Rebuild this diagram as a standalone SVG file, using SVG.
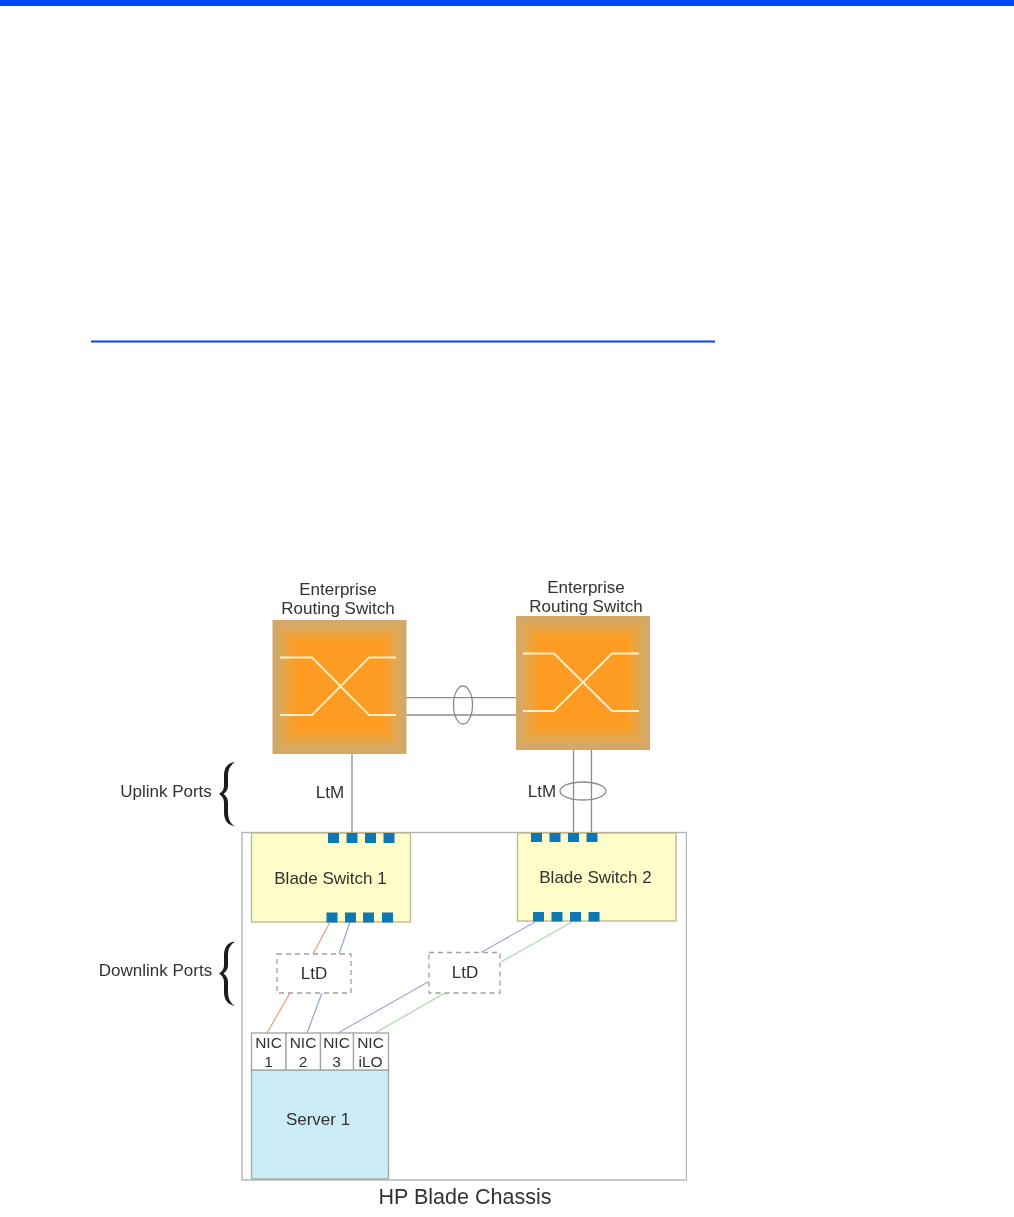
<svg xmlns="http://www.w3.org/2000/svg" width="1014" height="1217" viewBox="0 0 1014 1217">
<style>
text{font-family:"Liberation Sans",Arial,sans-serif;font-size:17px;fill:#333;text-anchor:middle}
.nt{font-size:15.500px}
.o0{fill:#d4a968}.o1{fill:#dca85c}.o2{fill:#e5a64c}.o3{fill:#eea33c}.o4{fill:#f69f2c}.o5{fill:#fd9b20}
.x{fill:none;stroke:#fff0cc;stroke-width:1.800}
.g{fill:none;stroke:#8c8c8c;stroke-width:1.300}
.blade{fill:#fefcc8;stroke:#b9b78e;stroke-width:1.300}
.port{fill:#0a78b4}
.ltd{fill:#fff;stroke:#a0a0a0;stroke-width:1.300;stroke-dasharray:5 4}
.nic{fill:#fff;stroke:#a0a4a4;stroke-width:1.300}
.c{fill:none;stroke-width:1.200}
.brace{fill:#1a1a1a}
</style>
<defs>
<filter id="soft" x="0" y="0" width="100%" height="100%"><feGaussianBlur stdDeviation="0.35"/></filter>
<path id="br" d="M235 762C228 763 224 767 224 776V785C224 790 222 792 219 794C222 796 224 798 224 803V812C224 821 228 825 235 826.500C231 824 228 820 228 812V803C228 798 226 796 223.500 794C226 792 228 790 228 785V776C228 768 231 765 235 762Z"/>
</defs>
<rect width="1014" height="1217" fill="#fff"/>
<rect x="0" y="0" width="1014" height="6" fill="#0047f5"/>
<rect x="91" y="340.500" width="624" height="2" fill="#0047f5"/>

<g filter="url(#soft)">
<g id="chassis">
<rect x="242" y="832.500" width="444.500" height="347.500" fill="#fff" stroke="#b4b4b4" stroke-width="1.400"/>
<text x="465" y="1204" style="font-size:21.500px">HP Blade Chassis</text>
</g>

<g id="connectors">
<path class="g" d="M406 697.700H516M406 715H516"/>
<path class="g" d="M352 754V832M573.500 750V832M591.500 750V832"/>
<ellipse class="g" cx="463" cy="705" rx="9.500" ry="19"/>
<ellipse class="g" cx="583" cy="791" rx="23" ry="9"/>
<path class="c" stroke="#e39a84" d="M330 922L313 954M290 993L267 1033"/>
<path class="c" stroke="#8ea6d0" d="M350 922L339 954M322 993L307 1033"/>
<path class="c" stroke="#a5a6d6" d="M535 922L480 953M428 982L338 1033"/>
<path class="c" stroke="#a9d6a8" d="M572 922L501 962M445 993L375 1033"/>
</g>

<g id="switch1">
<rect class="o0" x="272.500" y="620" width="134" height="134"/>
<rect class="o1" x="278.500" y="626" width="122" height="122"/>
<rect class="o2" x="282.500" y="630" width="114" height="114"/>
<rect class="o3" x="286.500" y="634" width="106" height="106"/>
<rect class="o4" x="290.500" y="638" width="98" height="98"/>
<rect class="o5" x="294.500" y="642" width="90" height="90"/>
<path class="x" d="M280 657.500H312L369 715H396M280 715H312L369 657.500H396"/>
<text x="338" y="595">Enterprise</text>
<text x="338" y="614">Routing Switch</text>
</g>
<g id="switch2">
<rect class="o0" x="516" y="616" width="134" height="134"/>
<rect class="o1" x="522" y="622" width="122" height="122"/>
<rect class="o2" x="526" y="626" width="114" height="114"/>
<rect class="o3" x="530" y="630" width="106" height="106"/>
<rect class="o4" x="534" y="634" width="98" height="98"/>
<rect class="o5" x="538" y="638" width="90" height="90"/>
<path class="x" d="M523 653.500H554L612 711H639M523 711H554L612 653.500H639"/>
<text x="586" y="593">Enterprise</text>
<text x="586" y="612">Routing Switch</text>
</g>

<g id="blade1">
<rect class="blade" x="251.500" y="833" width="159" height="89"/>
<rect class="port" x="328" y="833" width="11" height="10"/><rect class="port" x="346.500" y="833" width="11" height="10"/><rect class="port" x="365" y="833" width="11" height="10"/><rect class="port" x="383.500" y="833" width="11" height="10"/>
<rect class="port" x="326.500" y="912.500" width="11" height="10"/><rect class="port" x="345" y="912.500" width="11" height="10"/><rect class="port" x="363" y="912.500" width="11" height="10"/><rect class="port" x="382" y="912.500" width="11" height="10"/>
<text x="330.500" y="884">Blade Switch 1</text>
</g>
<g id="blade2">
<rect class="blade" x="517.500" y="833" width="158.500" height="88"/>
<rect class="port" x="531" y="833" width="11" height="9"/><rect class="port" x="549.500" y="833" width="11" height="9"/><rect class="port" x="568" y="833" width="11" height="9"/><rect class="port" x="586.500" y="833" width="11" height="9"/>
<rect class="port" x="533" y="912" width="11" height="9.500"/><rect class="port" x="551.500" y="912" width="11" height="9.500"/><rect class="port" x="570" y="912" width="11" height="9.500"/><rect class="port" x="588.500" y="912" width="11" height="9.500"/>
<text x="595.500" y="883">Blade Switch 2</text>
</g>

<g id="ltd1">
<rect class="ltd" x="277" y="954" width="74" height="39"/>
<text x="314" y="979">LtD</text>
</g>
<g id="ltd2">
<rect class="ltd" x="429" y="952.500" width="71" height="40.500"/>
<text x="465" y="978">LtD</text>
</g>

<g id="server1">
<rect x="251.500" y="1070" width="137" height="109" fill="#cbebf5" stroke="#a0a4a4" stroke-width="1.300"/>
<rect class="nic" x="251.500" y="1033" width="34.500" height="37"/>
<rect class="nic" x="286" y="1033" width="34.500" height="37"/>
<rect class="nic" x="320.500" y="1033" width="33" height="37"/>
<rect class="nic" x="353.500" y="1033" width="35" height="37"/>
<text class="nt" x="268.500" y="1048">NIC</text><text class="nt" x="268.500" y="1067">1</text>
<text class="nt" x="303" y="1048">NIC</text><text class="nt" x="303" y="1067">2</text>
<text class="nt" x="336.500" y="1048">NIC</text><text class="nt" x="336.500" y="1067">3</text>
<text class="nt" x="370.500" y="1048">NIC</text><text class="nt" x="370.500" y="1067">iLO</text>
<text x="318" y="1125">Server 1</text>
</g>

<g id="labels">
<text x="330" y="798">LtM</text>
<text x="542" y="797">LtM</text>
<text x="166" y="797">Uplink Ports</text>
<text x="155.500" y="976">Downlink Ports</text>
<use href="#br" class="brace"/>
<use href="#br" class="brace" y="179.500"/>
</g>
</g>
</svg>
